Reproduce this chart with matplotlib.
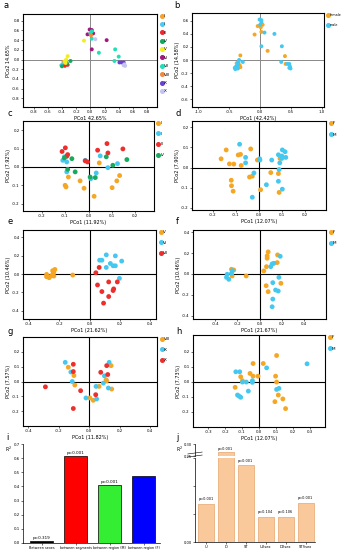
import matplotlib
matplotlib.use('Agg')
import matplotlib.pyplot as plt
from matplotlib.lines import Line2D

# ---- panel a / b data (same samples, coloured by segment and by sex) ----
a_grp_names = ['I', 'II', 'III', 'IV', 'V', 'VI', 'VII', 'VIII', 'IX', 'X']
a_grp_cols = ['#f7a12a', '#4cc9f0', '#f0262e', '#12a85a', '#f2ee1c',
              '#a3187e', '#1ee0b4', '#f08a3c', '#6a40d0', '#c4c4f2']
a_x = [-0.38, -0.35, -0.37, -0.41, -0.39, -0.36, -0.36, -0.32, -0.40, -0.28, -0.33,
       -0.32, -0.34, -0.36, -0.35, -0.09, -0.01, 0.02, -0.04, 0.04, 0.02, 0.23,
       0.00, 0.02, 0.02, 0.12, 0.35, 0.34, 0.40, 0.01, 0.41, 0.44, 0.47,
       0.07, 0.47, 0.49, 0.48]
a_y = [-0.05, -0.03, -0.09, -0.12, -0.10, -0.07, -0.13, -0.11, -0.14, -0.03, -0.08,
       0.07, 0.00, -0.04, -0.07, 0.39, 0.62, 0.61, 0.52, 0.54, 0.21, 0.40,
       0.54, 0.58, 0.43, 0.14, 0.21, -0.03, 0.06, 0.50, -0.06, -0.06, -0.06,
       0.42, -0.12, -0.13, -0.10]
a_grp = [0, 0, 0, 1, 1, 1, 2, 2, 3, 3, 3,
         4, 4, 4, 4, 4, 5, 5, 5, 5, 5, 5,
         6, 6, 6, 6, 6, 6, 6, 7, 8, 8, 8,
         9, 9, 9, 9]
a_sex = ['F', 'M', 'M', 'M', 'M', 'M', 'M', 'F', 'M', 'M', 'F',
         'F', 'M', 'M', 'F', 'F', 'M', 'M', 'F', 'F', 'M', 'M',
         'M', 'M', 'F', 'F', 'M', 'M', 'F', 'F', 'F', 'M', 'M',
         'M', 'M', 'M', 'M']

# ---- panel c ----
c_x = {'I': [-0.086, -0.036, -0.100, -0.096, -0.019, 0.024, 0.046, 0.133, 0.121, 0.101],
       'II': [-0.110, -0.103, -0.093, -0.093, -0.014, 0.050, 0.033, 0.010, 0.083, 0.124],
       'III': [-0.113, -0.099, -0.093, -0.089, -0.014, -0.004, 0.039, 0.079, 0.083, 0.147],
       'IV': [-0.103, -0.071, -0.089, -0.057, 0.007, 0.029, 0.076, 0.104, 0.164]}
c_y = {'I': [-0.055, -0.076, -0.100, -0.109, -0.116, -0.160, 0.022, -0.047, -0.076, -0.113],
       'II': [0.036, 0.055, 0.027, -0.027, 0.036, 0.060, -0.033, -0.064, -0.004, 0.018],
       'III': [0.084, 0.104, 0.058, 0.067, 0.033, 0.027, 0.091, 0.127, 0.076, 0.098],
       'IV': [0.049, 0.045, -0.013, -0.027, -0.055, -0.058, 0.055, 0.009, 0.040]}

# ---- panel d ----
d_x = {'F': [-0.142, -0.164, -0.128, -0.109, -0.090, -0.080, -0.077, -0.036, -0.007, -0.041,
             -0.029, 0.051, 0.084, 0.091, -0.120, -0.119, -0.112, 0.007, 0.087],
       'M': [-0.084, -0.058, -0.058, 0.003, 0.004, 0.055, 0.084, 0.101, 0.113, 0.099,
             0.099, 0.116, 0.090, 0.087, -0.022, 0.032, 0.084, 0.101, -0.029]}
d_y = {'F': [0.087, 0.043, 0.018, 0.017, 0.062, 0.065, 0.010, 0.092, 0.037, -0.047,
             -0.043, -0.025, -0.030, 0.045, -0.063, -0.090, -0.117, -0.110, -0.123],
       'M': [0.115, 0.050, 0.023, 0.043, 0.037, 0.037, 0.063, 0.087, 0.078, 0.057,
             0.045, 0.050, 0.023, -0.010, -0.027, -0.085, -0.068, -0.107, -0.147]}

# ---- panel e ----
e_x = {'V': [-0.284, -0.273, -0.267, -0.284, -0.251, -0.236, -0.244, -0.236, -0.229, -0.240, -0.111],
       'VI': [0.067, 0.082, 0.111, 0.138, 0.156, 0.171, 0.111, 0.171, 0.213, 0.198],
       'VII': [0.042, 0.064, 0.053, 0.082, 0.127, 0.184, 0.160, 0.156, 0.127, 0.093]}
e_y = {'V': [-0.004, -0.029, -0.040, -0.029, -0.018, -0.022, 0.036, 0.025, 0.050, 0.007, -0.011],
       'VI': [0.151, 0.151, 0.209, 0.115, 0.090, 0.090, 0.072, 0.198, 0.141, -0.047],
       'VII': [0.014, 0.072, -0.119, -0.191, -0.086, -0.086, -0.162, -0.180, -0.245, -0.317]}

# ---- panel f ----
f_x = {'F': [-0.232, -0.253, -0.247, -0.120, 0.039, 0.063, 0.069, 0.069, 0.078, 0.160,
             0.163, 0.193, 0.060, 0.078],
       'M': [-0.292, -0.298, -0.277, -0.253, -0.244, 0.102, 0.114, 0.130, 0.187, 0.175,
             0.120, 0.145, 0.169, 0.120, 0.114]}
f_y = {'F': [0.038, 0.045, -0.019, -0.019, 0.029, 0.070, 0.150, 0.173, 0.211, 0.109,
             0.182, -0.089, -0.112, -0.169],
       'M': [-0.003, -0.032, -0.051, 0.006, 0.032, 0.070, 0.096, 0.102, 0.169, -0.032,
             -0.083, -0.153, -0.163, -0.240, -0.313]}

# ---- panel g ----
g_x = {'VIII': [-0.138, -0.101, -0.095, 0.004, 0.026, 0.064, 0.110, 0.114, 0.143, 0.147],
       'IX': [-0.158, -0.121, -0.112, -0.022, 0.044, 0.048, 0.092, 0.099, 0.130, 0.125],
       'X': [-0.288, -0.105, -0.105, -0.057, 0.042, 0.075, 0.114, 0.121, -0.105]}
g_y = {'VIII': [0.096, 0.040, -0.024, -0.111, -0.127, -0.033, 0.011, 0.004, 0.107, -0.051],
       'IX': [0.129, 0.064, 0.000, -0.111, -0.033, -0.118, -0.011, 0.038, 0.129, -0.044],
       'X': [-0.036, 0.116, 0.067, -0.062, -0.089, 0.062, 0.107, 0.047, -0.182]}

# ---- panel h ----
h_x = {'F': [-0.141, -0.108, -0.098, -0.053, -0.035, -0.035, -0.006, 0.025, 0.104, 0.098,
             0.104, 0.114, 0.094, 0.141, 0.157],
       'M': [-0.137, -0.114, -0.098, -0.075, -0.039, -0.039, -0.063, -0.127, -0.118, -0.108,
             0.045, 0.104, 0.118, 0.284]}
h_y = {'F': [-0.037, 0.033, 0.007, 0.055, 0.037, 0.121, 0.037, 0.121, 0.174, 0.037,
             -0.002, -0.088, -0.132, -0.114, -0.178],
       'M': [0.066, 0.066, -0.002, -0.002, 0.007, -0.004, -0.062, -0.088, -0.095, -0.103,
             0.092, -0.051, -0.044, 0.119]}

# ---- panel i ----
i_cats = ['Between sexes', 'between segments', 'between region (M)', 'between region (F)']
i_vals = [0.014, 0.614, 0.41, 0.474]
i_p = ['p=0.319', 'p=0.001', 'p=0.001', '']
i_cols = ['#000000', '#ff0000', '#33ee33', '#0000ff']

# ---- panel j ----
j_cats = ['U', 'D', 'ST', 'U\u2229sex', 'D\u2229sex', 'ST\u2229sex']
j_vals = [0.067, 0.268, 0.136, 0.044, 0.044, 0.069]
j_p = ['p=0.001', 'p=0.001', 'p=0.001', 'p=0.104', 'p=0.106', 'p=0.001']

ORANGE = '#f5a623'
BLUE = '#45c8f0'
RED = '#ee2d2d'
GREEN = '#19a95c'

W, H = 344, 550
fig = plt.figure(figsize=(W / 100, H / 100), dpi=100)


def box(l, t, r, b):
    return [l / W, 1 - b / H, (r - l) / W, (b - t) / H]


def style(ax, xl, yl, xlim, ylim, xt, yt, lc='black', lw=0.8):
    ax.set_xlim(*xlim)
    ax.set_ylim(*ylim)
    ax.set_xticks(xt)
    ax.set_yticks(yt)
    ax.set_xticklabels(['%.1f' % v for v in xt])
    ax.set_yticklabels(['%.1f' % v for v in yt])
    ax.tick_params(labelsize=2.8, length=1.5, width=0.4, pad=1)
    ax.set_xlabel(xl, fontsize=3.5, labelpad=1)
    ax.set_ylabel(yl, fontsize=3.5, labelpad=1)
    ax.axhline(0, color=lc, lw=lw, zorder=1)
    ax.axvline(0, color=lc, lw=lw, zorder=1)
    for s in ax.spines.values():
        s.set_linewidth(0.8)


def legend(ax, names, cols, gap=1.3, fs=3):
    hs = [Line2D([], [], marker='o', ls='', color=c, markersize=2.6) for c in cols]
    ax.legend(hs, names, loc='upper left', bbox_to_anchor=(1.02, 1.0), frameon=False,
              fontsize=fs, handletextpad=0.1, labelspacing=gap, borderaxespad=0,
              handlelength=0.9, borderpad=0)


def label(x, y, t):
    fig.text(x / W, 1 - y / H, t, fontsize=6, va='center', ha='left')


def group_scatter(ax, xs, ys, cols, s=12):
    for k, c in zip(xs, cols):
        ax.scatter(xs[k], ys[k], s=s, color=c, edgecolors='none', zorder=3)


# a
ax = fig.add_axes(box(23, 14, 157, 107))
ticks = [-0.8, -0.6, -0.4, -0.2, 0.0, 0.2, 0.4, 0.6, 0.8]
style(ax, 'PCo1 42.65%', 'PCo2 14.65%', (-0.95, 0.94), (-0.98, 0.94), ticks, ticks,
      lc='#888888', lw=0.7)
for gi, (n, c) in enumerate(zip(a_grp_names, a_grp_cols)):
    xs = [x for x, g in zip(a_x, a_grp) if g == gi]
    ys = [y for y, g in zip(a_y, a_grp) if g == gi]
    ax.scatter(xs, ys, s=8, color=c, edgecolors='none', zorder=3)
legend(ax, a_grp_names, a_grp_cols, gap=1.05)
label(3, 5, 'a')

# b
ax = fig.add_axes(box(192, 13, 324, 107))
style(ax, 'PCo1 (42.42%)', 'PCo2 (14.58%)', (-1.1, 1.03), (-0.72, 0.72),
      [-1.0, -0.5, 0.0, 0.5, 1.0], [-0.6, -0.4, -0.2, 0.0, 0.2, 0.4, 0.6],
      lc='#888888', lw=0.7)
for sx, c in (('F', ORANGE), ('M', BLUE)):
    xs = [x for x, s in zip(a_x, a_sex) if s == sx]
    ys = [y for y, s in zip(a_y, a_sex) if s == sx]
    ax.scatter(xs, ys, s=8, color=c, edgecolors='none', zorder=3)
legend(ax, ['female', 'male'], [ORANGE, BLUE], gap=1.8, fs=2.4)
label(174, 5, 'b')

# c
ax = fig.add_axes(box(23, 121, 154, 211))
style(ax, 'PCo1 (11.92%)', 'PCo2 (7.92%)', (-0.28, 0.28), (-0.24, 0.25),
      [-0.2, -0.1, 0.0, 0.1, 0.2], [-0.2, -0.1, 0.0, 0.1, 0.2])
group_scatter(ax, c_x, c_y, [ORANGE, BLUE, RED, GREEN])
legend(ax, list(c_x), [ORANGE, BLUE, RED, GREEN], gap=1.6)
label(7, 114, 'c')

# d
ax = fig.add_axes(box(192, 121, 326, 210))
style(ax, 'PCo1 (12.07%)', 'PCo2 (7.90%)', (-0.29, 0.29), (-0.21, 0.23),
      [-0.2, -0.1, 0.0, 0.1, 0.2], [-0.2, -0.1, 0.0, 0.1, 0.2])
group_scatter(ax, d_x, d_y, [ORANGE, BLUE])
legend(ax, list(d_x), [ORANGE, BLUE], gap=1.8)
label(176, 114, 'd')

# e
ax = fig.add_axes(box(23, 230, 156, 319))
style(ax, 'PCo1 (21.62%)', 'PCo2 (10.46%)', (-0.44, 0.44), (-0.49, 0.48),
      [-0.4, -0.2, 0.0, 0.2, 0.4], [-0.4, -0.2, 0.0, 0.2, 0.4])
group_scatter(ax, e_x, e_y, [ORANGE, BLUE, RED])
legend(ax, list(e_x), [ORANGE, BLUE, RED], gap=1.6)
label(7, 222, 'e')

# f
ax = fig.add_axes(box(193, 230, 326, 319))
style(ax, 'PCo1 (21.67%)', 'PCo2 (10.46%)', (-0.6, 0.6), (-0.43, 0.42),
      [-0.4, -0.2, 0.0, 0.2, 0.4], [-0.4, -0.2, 0.0, 0.2, 0.4])
group_scatter(ax, f_x, f_y, [ORANGE, BLUE])
legend(ax, list(f_x), [ORANGE, BLUE], gap=1.8)
label(176, 222, 'f')

# g
ax = fig.add_axes(box(23, 337, 157, 426))
style(ax, 'PCo1 (11.82%)', 'PCo2 (7.57%)', (-0.435, 0.444), (-0.3, 0.3),
      [-0.4, -0.2, 0.0, 0.2, 0.4], [-0.2, -0.1, 0.0, 0.1, 0.2])
group_scatter(ax, g_x, g_y, [ORANGE, BLUE, RED])
legend(ax, list(g_x), [ORANGE, BLUE, RED], gap=1.6)
label(7, 331, 'g')

# h
ax = fig.add_axes(box(193, 335, 325, 427))
style(ax, 'PCo1 (12.07%)', 'PCo2 (7.73%)', (-0.39, 0.39), (-0.3, 0.31),
      [-0.3, -0.2, -0.1, 0.0, 0.1, 0.2, 0.3], [-0.2, -0.1, 0.0, 0.1, 0.2])
group_scatter(ax, h_x, h_y, [ORANGE, BLUE])
legend(ax, list(h_x), [ORANGE, BLUE], gap=1.8)
label(176, 331, 'h')

# i
ax = fig.add_axes(box(23, 444, 160, 543))
pos = range(len(i_cats))
ax.bar(pos, i_vals, width=0.69, color=i_cols, edgecolor='black', linewidth=0.5)
for p, v, t in zip(pos, i_vals, i_p):
    if t:
        ax.text(p, v + 0.008, t, ha='center', va='bottom', fontsize=3)
ax.set_xlim(-0.55, 3.48)
ax.set_ylim(0, 0.7)
ax.set_yticks([0.0, 0.1, 0.2, 0.3, 0.4, 0.5, 0.6, 0.7])
ax.set_xticks(list(pos))
ax.set_xticklabels(i_cats)
ax.tick_params(labelsize=2.8, length=1.5, width=0.4, pad=1)
ax.tick_params(axis='x', labelsize=2.4)
ax.spines['top'].set_visible(False)
ax.spines['right'].set_visible(False)
for s in ('left', 'bottom'):
    ax.spines[s].set_linewidth(0.5)
fig.text(5 / W, 1 - 449 / H, 'R$^2$', fontsize=3.3, va='center')
label(6, 437, 'i')

# j (broken axis)
jcol = '#f9c89b'
jedge = '#e6a46c'
pos = range(len(j_cats))
low = fig.add_axes(box(195, 457.5, 315, 542))
up = fig.add_axes(box(195, 444, 315, 456), sharex=low)
for a in (low, up):
    a.bar(pos, j_vals, width=0.8, color=jcol, edgecolor=jedge, linewidth=0.5)
    a.spines['top'].set_visible(False)
    a.spines['right'].set_visible(False)
    a.spines['left'].set_linewidth(0.5)
    a.tick_params(labelsize=2.6, length=1.5, width=0.4, pad=1)
low.set_ylim(0, 0.15)
up.set_ylim(0.25, 0.30)
low.set_xlim(-0.54, 5.47)
low.set_yticks([0.0, 0.05, 0.10, 0.15])
low.set_yticklabels(['0.00', '', '', ''])
up.set_yticks([0.25, 0.30])
up.set_yticklabels(['0.25', '0.30'])
up.spines['bottom'].set_visible(False)
up.tick_params(axis='x', bottom=False, labelbottom=False)
low.spines['bottom'].set_linewidth(0.5)
low.set_xticks(list(pos))
low.set_xticklabels(j_cats)
for p, v, t in zip(pos, j_vals, j_p):
    a = up if v > 0.15 else low
    a.text(p, v + (0.003 if a is up else 0.005), t, ha='center', va='bottom', fontsize=2.5)
# break marks on the y axis
for yy in (0.0, 0.25):
    up.plot([-0.06, 0.06], [yy - 0.08, yy + 0.08], transform=up.transAxes,
            color='black', lw=0.4, clip_on=False)
fig.text(176 / W, 1 - 449 / H, 'R$^2$', fontsize=3.3, va='center')
label(176, 437, 'j')

fig.savefig('out.png', dpi=100)
